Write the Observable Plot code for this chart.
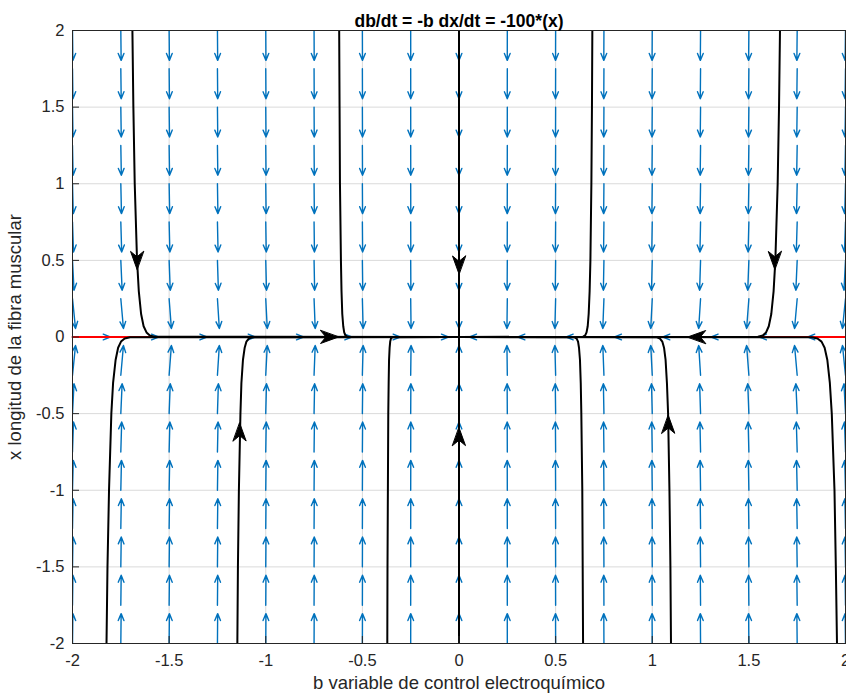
<!DOCTYPE html>
<html><head><meta charset="utf-8">
<script src="https://cdn.jsdelivr.net/npm/d3@7"></script>
<script src="https://cdn.jsdelivr.net/npm/@observablehq/plot@0.6"></script>
<style>
html,body{margin:0;padding:0;background:#fff}
svg{display:block}
</style>
</head><body><div id="chart"></div>
<script>
// ---- texts ----
const title = "db/dt = -b dx/dt = -100*(x)";
const xLabel = "b variable de control electroquímico";
const yLabel = "x longitud de la fibra muscular";

// ---- ticks ----
const xTicks = [-2, -1.5, -1, -0.5, 0, 0.5, 1, 1.5, 2];
const yTicks = [-2, -1.5, -1, -0.5, 0, 0.5, 1, 1.5, 2];

// ---- quiver grid (direction field of db/dt = -b, dx/dt = -100x) ----
const bGrid = [-2, -1.75, -1.5, -1.25, -1, -0.75, -0.5, -0.25, 0, 0.25, 0.5, 0.75, 1, 1.25, 1.5, 1.75, 2];
const xGrid = [-2, -1.75, -1.5, -1.25, -1, -0.75, -0.5, -0.25, 0, 0.25, 0.5, 0.75, 1, 1.25, 1.5, 1.75, 2];

// ---- red line (x = 0) ----
const redLine = [[-2, 0], [2, 0]];

// ---- trajectories [b, x] ----
const traj1 = [[-1.690,2],[-1.685,1.5],[-1.678,1],[-1.666,0.5],[-1.657,0.3],[-1.645,0.15],[-1.632,0.07],[-1.617,0.03],[-1.600,0.01],[-1.575,0.002],[0,0]];
const traj2 = [[-0.620,2],[-0.618,1.5],[-0.616,1],[-0.611,0.5],[-0.608,0.3],[-0.604,0.15],[-0.599,0.07],[-0.594,0.03],[-0.588,0.01],[-0.578,0.002],[0,0]];
const traj3 = [[0,2],[0,0]];
const traj4 = [[0.690,2],[0.688,1.5],[0.685,1],[0.680,0.5],[0.676,0.3],[0.671,0.15],[0.666,0.07],[0.660,0.03],[0.653,0.01],[0.642,0.002],[0,0]];
const traj5 = [[1.661,2],[1.656,1.5],[1.649,1],[1.637,0.5],[1.628,0.3],[1.616,0.15],[1.603,0.07],[1.589,0.03],[1.572,0.01],[1.547,0.002],[0,0]];
const traj6 = [[-1.824,-2],[-1.819,-1.5],[-1.811,-1],[-1.799,-0.5],[-1.790,-0.3],[-1.777,-0.15],[-1.764,-0.07],[-1.749,-0.03],[-1.730,-0.01],[-1.702,-0.002],[0,0]];
const traj7 = [[-1.147,-2],[-1.144,-1.5],[-1.139,-1],[-1.131,-0.5],[-1.126,-0.3],[-1.118,-0.15],[-1.109,-0.07],[-1.100,-0.03],[-1.088,-0.01],[-1.070,-0.002],[0,0]];
const traj8 = [[-0.371,-2],[-0.370,-1.5],[-0.368,-1],[-0.366,-0.5],[-0.364,-0.3],[-0.362,-0.15],[-0.359,-0.07],[-0.356,-0.03],[-0.352,-0.01],[-0.346,-0.002],[0,0]];
const traj9 = [[0,-2],[0,0]];
const traj10 = [[0.642,-2],[0.640,-1.5],[0.638,-1],[0.633,-0.5],[0.630,-0.3],[0.626,-0.15],[0.621,-0.07],[0.616,-0.03],[0.609,-0.01],[0.599,-0.002],[0,0]];
const traj11 = [[1.097,-2],[1.094,-1.5],[1.089,-1],[1.082,-0.5],[1.076,-0.3],[1.069,-0.15],[1.061,-0.07],[1.052,-0.03],[1.040,-0.01],[1.024,-0.002],[0,0]];
const traj12 = [[1.956,-2],[1.950,-1.5],[1.943,-1],[1.929,-0.5],[1.919,-0.3],[1.906,-0.15],[1.892,-0.07],[1.876,-0.03],[1.855,-0.01],[1.825,-0.002],[0,0]];

// ---- arrowheads on trajectories ----
const headB = [-1.666, 0, 1.634, -0.67, 1.23, -1.135, 0, 1.083];
const headX = [0.5, 0.47, 0.5, 0, 0, -0.62, -0.65, -0.57];
const headDir = ["down", "down", "down", "right", "left", "up", "up", "up"];

// ---- build tables ----
const arrowScale = 0.195;
const quiver = [];
for (const b of bGrid) for (const x of xGrid) {
  const u = -b, v = -100 * x;
  const n = Math.hypot(u, v);
  if (n === 0) continue;
  quiver.push({b, x, b2: b + arrowScale * u / n, x2: x + arrowScale * v / n});
}
const trajs = [traj1, traj2, traj3, traj4, traj5, traj6, traj7, traj8, traj9, traj10, traj11, traj12];
const trajData = trajs.flatMap((t, i) => t.map(([b, x]) => ({id: i, b, x})));
const dirAngle = {up: 0, right: 90, down: 180, left: 270};
const heads = headB.map((b, i) => ({b, x: headX[i], angle: dirAngle[headDir[i]]}));
const redData = redLine.map(([b, x]) => ({b, x}));

const W = 846, H = 700, mL = 72, mR = 1, mT = 30, mB = 57;
const innerW = W - mL - mR, innerH = H - mT - mB;

const notched = {
  draw(context, l) {
    context.moveTo(0, -l);
    context.lineTo(6.5, 0);
    context.lineTo(0, -l * 0.3);
    context.lineTo(-6.5, 0);
    context.closePath();
  }
};

const fmt = d => String(d);

const chart = Plot.plot({
  width: W, height: H,
  marginLeft: mL, marginRight: mR, marginTop: mT, marginBottom: mB,
  x: {domain: [-2, 2]},
  y: {domain: [-2, 2]},
  style: {fontFamily: "'Liberation Sans', Arial, Helvetica, sans-serif", background: "#fff", color: "#262626"},
  marks: [
    Plot.ruleX(xTicks, {x: d => d, stroke: "#dadada", strokeWidth: 1}),
    Plot.ruleY(yTicks, {y: d => d, stroke: "#dadada", strokeWidth: 1}),
    Plot.arrow(quiver, {x1: "b", y1: "x", x2: "b2", y2: "x2", stroke: "#0072BD", strokeWidth: 1.4, headLength: 8, headAngle: 45, clip: true}),
    Plot.line(redData, {x: "b", y: "x", stroke: "#ff0000", strokeWidth: 2}),
    Plot.line(trajData, {x: "b", y: "x", z: "id", stroke: "#000", strokeWidth: 2, clip: true}),
    Plot.vector(heads, {x: "b", y: "x", rotate: "angle", length: 18, anchor: "middle", shape: notched, fill: "#000", stroke: "#000", strokeWidth: 1}),
    Plot.frame({stroke: "#262626"}),
    Plot.tickX(xTicks, {x: d => d, insetTop: innerH - 7, stroke: "#262626"}),
    Plot.tickY(yTicks, {y: d => d, insetRight: innerW - 7, stroke: "#262626"}),
    Plot.axisX({ticks: xTicks, tickSize: 0, tickPadding: 11, tickFormat: fmt, fontSize: 16.5, label: null}),
    Plot.axisY({ticks: yTicks, tickSize: 0, tickPadding: 8, tickFormat: fmt, fontSize: 16.5, label: null}),
    Plot.text([xLabel], {frameAnchor: "bottom", dy: 45, fontSize: 18.5, textAnchor: "middle", fill: "#262626"}),
    Plot.text([yLabel], {frameAnchor: "left", dx: -57, rotate: -90, textAnchor: "middle", fontSize: 18.5, fill: "#262626"}),
    Plot.text([title], {frameAnchor: "top", dy: -16, fontSize: 17.5, fontWeight: "bold", fill: "#000"})
  ]
});
document.getElementById("chart").appendChild(chart);
</script>
</body></html>
